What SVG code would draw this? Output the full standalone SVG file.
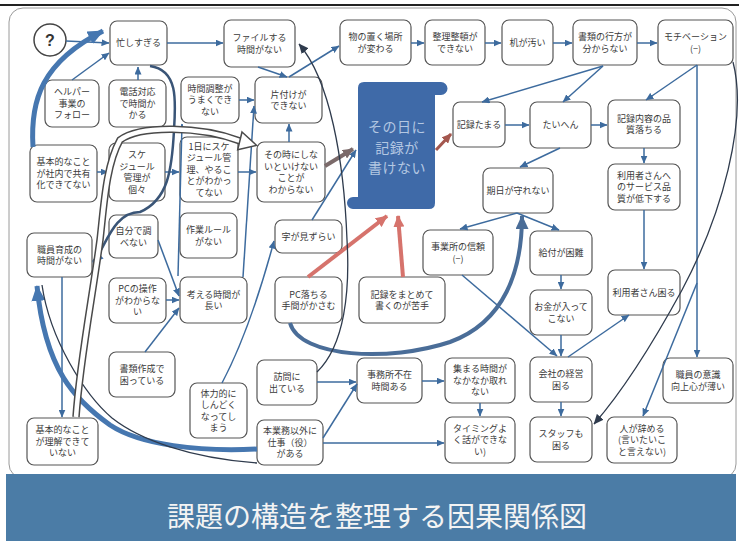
<svg xmlns="http://www.w3.org/2000/svg" width="739" height="546" viewBox="0 0 739 546">
<style>
.n rect{fill:#fff;stroke:#555;stroke-width:1.2}
.t{font-family:"Noto Sans CJK JP","Noto Sans",sans-serif;font-size:9px;fill:#3a3a3a;text-anchor:middle}
.c{fill:none;stroke:#3d6b9e;stroke-width:1.5;marker-end:url(#mb)}
.c0{fill:none;stroke:#3d6b9e;stroke-width:1.5}
.k{fill:none;stroke:#2f3b4d;stroke-width:1.3}
</style>
<defs>
<marker id="mb" markerUnits="userSpaceOnUse" markerWidth="8" markerHeight="7" refX="7.5" refY="3.5" orient="auto"><path d="M0,0 L8,3.5 L0,7 z" fill="#3d6b9e"/></marker>
<marker id="mk" markerUnits="userSpaceOnUse" markerWidth="10" markerHeight="9" refX="9.5" refY="4.5" orient="auto"><path d="M0,0 L10,4.5 L0,9 z" fill="#2f3b4d"/></marker>
<marker id="mB" markerUnits="userSpaceOnUse" markerWidth="16" markerHeight="14" refX="15" refY="7" orient="auto"><path d="M0,0 L16,7 L0,14 z" fill="#4677b0"/></marker>
<marker id="mP" markerUnits="userSpaceOnUse" markerWidth="14" markerHeight="13" refX="13" refY="6.5" orient="auto"><path d="M0,0 L14,6.5 L0,13 z" fill="#4a6d98"/></marker>
<marker id="mR" markerUnits="userSpaceOnUse" markerWidth="12" markerHeight="11" refX="11" refY="5.5" orient="auto"><path d="M0,0 L12,5.5 L0,11 z" fill="#d6736c"/></marker>
<marker id="mG" markerUnits="userSpaceOnUse" markerWidth="11" markerHeight="10" refX="10" refY="5" orient="auto"><path d="M0,0 L11,5 L0,10 z" fill="#7b6a6a"/></marker>
<marker id="mD" markerUnits="userSpaceOnUse" markerWidth="10" markerHeight="9" refX="9" refY="4.5" orient="auto"><path d="M0,0 L10,4.5 L0,9 z" fill="#a4574e"/></marker>
<marker id="mS" markerUnits="userSpaceOnUse" markerWidth="11" markerHeight="10" refX="10" refY="5" orient="auto"><path d="M0,0 L11,5 L0,10 z" fill="#3f6ea8"/></marker>
</defs>
<rect x="0" y="0" width="739" height="546" fill="#fff"/>
<line x1="0" y1="5" x2="739" y2="5" stroke="#222" stroke-width="2"/>
<rect x="9" y="8" width="727" height="470" rx="14" fill="#fff" stroke="#9a9a9a" stroke-width="1"/>
<rect x="6" y="474" width="730" height="67" fill="#4b7ca6"/>
<text x="377" y="527" style="font-family:'Noto Sans CJK JP','Noto Sans',sans-serif;font-size:28px;fill:#f4f4f4;text-anchor:middle">課題の構造を整理する因果関係図</text>

<g id="nodes">
<g id="n_q"><circle cx="50" cy="40" r="16" fill="#fff" stroke="#444" stroke-width="1.5"/><text x="50" y="46" style="font-family:'Liberation Sans',sans-serif;font-size:16px;font-weight:bold;fill:#333;text-anchor:middle">?</text></g>
<g id="n1" class="n"><rect x="110" y="21" width="57" height="44" rx="7"/><text class="t" x="138.5" y="46.2">忙しすぎる</text></g>
<g id="n2" class="n"><rect x="224" y="20" width="71" height="47" rx="7"/><text class="t"><tspan x="259.5" y="41">ファイルする</tspan><tspan x="259.5" y="52.5">時間がない</tspan></text></g>
<g id="n3" class="n"><rect x="340" y="20" width="71" height="45" rx="7"/><text class="t"><tspan x="375.5" y="40">物の置く場所</tspan><tspan x="375.5" y="51.5">が変わる</tspan></text></g>
<g id="n4" class="n"><rect x="425" y="20" width="60" height="45" rx="7"/><text class="t"><tspan x="455" y="40">整理整頓が</tspan><tspan x="455" y="51.5">できない</tspan></text></g>
<g id="n5" class="n"><rect x="502" y="20" width="51" height="45" rx="7"/><text class="t" x="527.5" y="45.7">机が汚い</text></g>
<g id="n6" class="n"><rect x="573" y="20" width="64" height="45" rx="7"/><text class="t"><tspan x="605" y="40">書類の行方が</tspan><tspan x="605" y="51.5">分からない</tspan></text></g>
<g id="n7" class="n"><rect x="658" y="20" width="75" height="45" rx="7"/><text class="t"><tspan x="695.5" y="40">モチベーション</tspan><tspan x="695.5" y="51.5">(−)</tspan></text></g>
<g id="n8" class="n"><rect x="45" y="80" width="54" height="47" rx="7"/><text class="t"><tspan x="72" y="95.2">ヘルパー</tspan><tspan x="72" y="106.7">事業の</tspan><tspan x="72" y="118.2">フォロー</tspan></text></g>
<g id="n9" class="n"><rect x="109" y="80" width="57" height="47" rx="7"/><text class="t"><tspan x="137.5" y="95.2">電話対応</tspan><tspan x="137.5" y="106.7">で時間か</tspan><tspan x="137.5" y="118.2">かる</tspan></text></g>
<g id="n10" class="n"><rect x="181" y="77" width="58" height="46" rx="7"/><text class="t"><tspan x="210" y="91.7">時間調整が</tspan><tspan x="210" y="103.2">うまくでき</tspan><tspan x="210" y="114.7">ない</tspan></text></g>
<g id="n11" class="n"><rect x="255" y="77" width="67" height="46" rx="7"/><text class="t"><tspan x="288.5" y="97.5">片付けが</tspan><tspan x="288.5" y="109">できない</tspan></text></g>
<g id="n12" class="n"><rect x="30" y="145" width="67" height="57" rx="7"/><text class="t"><tspan x="63.5" y="165.2">基本的なこと</tspan><tspan x="63.5" y="176.7">が社内で共有</tspan><tspan x="63.5" y="188.2">化できてない</tspan></text></g>
<g id="n13" class="n"><rect x="109" y="143" width="56" height="58" rx="7"/><text class="t"><tspan x="137" y="158">スケ</tspan><tspan x="137" y="169.5">ジュール</tspan><tspan x="137" y="181">管理が</tspan><tspan x="137" y="192.5">個々</tspan></text></g>
<g id="n14" class="n"><rect x="180" y="137" width="58" height="65" rx="7"/><text class="t"><tspan x="209" y="149.7">1日にスケ</tspan><tspan x="209" y="161.2">ジュール管</tspan><tspan x="209" y="172.7">理、やるこ</tspan><tspan x="209" y="184.2">とがわかっ</tspan><tspan x="209" y="195.7">てない</tspan></text></g>
<g id="n15" class="n"><rect x="257" y="142" width="68" height="60" rx="7"/><text class="t"><tspan x="291" y="158">その時にしな</tspan><tspan x="291" y="169.5">いといけない</tspan><tspan x="291" y="181">ことが</tspan><tspan x="291" y="192.5">わからない</tspan></text></g>
<g id="n16"><path d="M364,82 H441 A6.5,6.5 0 0 1 441,95 H435 V203 Q435,209 429,209 H353 A6,6 0 0 1 353,197 H358 V88 Q358,82 364,82 Z" fill="#3f6aa8"/><text style="font-family:'Noto Sans CJK JP','Noto Sans',sans-serif;font-size:14px;fill:#b3c7e2;text-anchor:middle;letter-spacing:0.5px"><tspan x="397" y="132">その日に</tspan><tspan x="397" y="153">記録が</tspan><tspan x="397" y="173">書けない</tspan></text></g>
<g id="n17" class="n"><rect x="453" y="102" width="52" height="45" rx="7"/><text class="t" x="479" y="127.7">記録たまる</text></g>
<g id="n18" class="n"><rect x="530" y="102" width="61" height="46" rx="7"/><text class="t" x="560.5" y="128.2">たいへん</text></g>
<g id="n19" class="n"><rect x="608" y="100" width="72" height="48" rx="7"/><text class="t"><tspan x="644" y="121.5">記録内容の品</tspan><tspan x="644" y="133">質落ちる</tspan></text></g>
<g id="n20" class="n"><rect x="483" y="168" width="70" height="45" rx="7"/><text class="t" x="518" y="193.7">期日が守れない</text></g>
<g id="n21" class="n"><rect x="608" y="164" width="72" height="46" rx="7"/><text class="t"><tspan x="644" y="178.7">利用者さんへ</tspan><tspan x="644" y="190.2">のサービス品</tspan><tspan x="644" y="201.7">質が低下する</tspan></text></g>
<g id="n22" class="n"><rect x="423" y="230" width="70" height="45" rx="7"/><text class="t"><tspan x="458" y="250">事業所の信頼</tspan><tspan x="458" y="261.5">(−)</tspan></text></g>
<g id="n23" class="n"><rect x="530" y="231" width="62" height="44" rx="7"/><text class="t" x="561" y="256.2">給付が困難</text></g>
<g id="n24" class="n"><rect x="530" y="290" width="62" height="45" rx="7"/><text class="t"><tspan x="561" y="310">お金が入って</tspan><tspan x="561" y="321.5">こない</tspan></text></g>
<g id="n25" class="n"><rect x="608" y="270" width="72" height="45" rx="7"/><text class="t" x="644" y="295.7">利用者さん困る</text></g>
<g id="n26" class="n"><rect x="530" y="357" width="62" height="45" rx="7"/><text class="t"><tspan x="561" y="377">会社の経営</tspan><tspan x="561" y="388.5">困る</tspan></text></g>
<g id="n27" class="n"><rect x="663" y="358" width="70" height="45" rx="7"/><text class="t"><tspan x="698" y="378">職員の意識</tspan><tspan x="698" y="389.5">向上心が薄い</tspan></text></g>
<g id="n28" class="n"><rect x="530" y="417" width="62" height="45" rx="7"/><text class="t"><tspan x="561" y="437">スタッフも</tspan><tspan x="561" y="448.5">困る</tspan></text></g>
<g id="n29" class="n"><rect x="607" y="417" width="70" height="46" rx="7"/><text class="t"><tspan x="642" y="431.7">人が辞める</tspan><tspan x="642" y="443.2">(言いたいこ</tspan><tspan x="642" y="454.7">と言えない)</tspan></text></g>
<g id="n30" class="n"><rect x="445" y="358" width="70" height="45" rx="7"/><text class="t"><tspan x="480" y="372.2">集まる時間が</tspan><tspan x="480" y="383.7">なかなか取れ</tspan><tspan x="480" y="395.2">ない</tspan></text></g>
<g id="n31" class="n"><rect x="445" y="417" width="70" height="46" rx="7"/><text class="t"><tspan x="480" y="431.7">タイミングよ</tspan><tspan x="480" y="443.2">く話ができな</tspan><tspan x="480" y="454.7">い)</tspan></text></g>
<g id="n32" class="n"><rect x="357" y="358" width="65" height="45" rx="7"/><text class="t"><tspan x="389.5" y="378">事務所不在</tspan><tspan x="389.5" y="389.5">時間ある</tspan></text></g>
<g id="n33" class="n"><rect x="257" y="360" width="60" height="45" rx="7"/><text class="t"><tspan x="287" y="380">訪問に</tspan><tspan x="287" y="391.5">出ている</tspan></text></g>
<g id="n34" class="n"><rect x="257" y="420" width="66" height="45" rx="7"/><text class="t"><tspan x="290" y="434.2">本業務以外に</tspan><tspan x="290" y="445.7">仕事（役）</tspan><tspan x="290" y="457.2">がある</tspan></text></g>
<g id="n35" class="n"><rect x="275" y="220" width="67" height="33" rx="7"/><text class="t" x="308.5" y="239.7">字が見ずらい</text></g>
<g id="n36" class="n"><rect x="275" y="277" width="67" height="46" rx="7"/><text class="t"><tspan x="308.5" y="297.5">PC落ちる</tspan><tspan x="308.5" y="309">手間がかさむ</tspan></text></g>
<g id="n37" class="n"><rect x="359" y="277" width="86" height="46" rx="7"/><text class="t"><tspan x="402" y="297.5">記録をまとめて</tspan><tspan x="402" y="309">書くのが苦手</tspan></text></g>
<g id="n38" class="n"><rect x="109" y="215" width="49" height="43" rx="7"/><text class="t"><tspan x="133.5" y="234">自分で調</tspan><tspan x="133.5" y="245.5">べない</tspan></text></g>
<g id="n39" class="n"><rect x="180" y="213" width="57" height="45" rx="7"/><text class="t"><tspan x="208.5" y="233">作業ルール</tspan><tspan x="208.5" y="244.5">がない</tspan></text></g>
<g id="n40" class="n"><rect x="27" y="233" width="65" height="44" rx="7"/><text class="t"><tspan x="59.5" y="252.5">職員育成の</tspan><tspan x="59.5" y="264">時間がない</tspan></text></g>
<g id="n41" class="n"><rect x="109" y="278" width="57" height="45" rx="7"/><text class="t"><tspan x="137.5" y="292.2">PCの操作</tspan><tspan x="137.5" y="303.7">がわからな</tspan><tspan x="137.5" y="315.2">い</tspan></text></g>
<g id="n42" class="n"><rect x="180" y="277" width="67" height="46" rx="7"/><text class="t"><tspan x="213.5" y="297.5">考える時間が</tspan><tspan x="213.5" y="309">長い</tspan></text></g>
<g id="n43" class="n"><rect x="109" y="352" width="66" height="45" rx="7"/><text class="t"><tspan x="142" y="372">書類作成で</tspan><tspan x="142" y="383.5">困っている</tspan></text></g>
<g id="n44" class="n"><rect x="190" y="383" width="57" height="55" rx="7"/><text class="t"><tspan x="218.5" y="396.5">体力的に</tspan><tspan x="218.5" y="408">しんどく</tspan><tspan x="218.5" y="419.5">なってし</tspan><tspan x="218.5" y="431">まう</tspan></text></g>
<g id="n45" class="n"><rect x="27" y="418" width="71" height="47" rx="7"/><text class="t"><tspan x="62.5" y="433.2">基本的なこと</tspan><tspan x="62.5" y="444.7">が理解できて</tspan><tspan x="62.5" y="456.2">いない</tspan></text></g>
</g>

<g id="connectors">
<path class="c" d="M66,41 L109,43"/>
<path class="c" d="M72,80 L109,53"/>
<path class="c" d="M138,80 L138,67"/>
<path class="c" d="M167,43 L223,43"/>
<path class="c" d="M258,67 L287,77"/>
<path class="c" d="M289,77 L339,46"/>
<path class="c" d="M411,43 L424,43"/>
<path class="c" d="M485,43 L501,43"/>
<path class="c" d="M553,43 L572,43"/>
<path class="c" d="M637,43 L657,43"/>
<path class="c" d="M603,66 L482,102"/>
<path class="c" d="M603,66 L563,102"/>
<path class="c" d="M697,65 L646,100"/>
<path class="c" d="M697,65 L697,357"/>
<path class="c" d="M697,283 L643,416"/>
<path class="c" d="M505,125 L529,125"/>
<path class="c" d="M591,125 L607,125"/>
<path class="c" d="M560,148 L520,167"/>
<path class="c" d="M644,148 L644,163"/>
<path class="c" d="M644,210 L644,269"/>
<path class="c" d="M517,213 L460,229"/>
<path class="c" d="M517,213 L559,230"/>
<path class="c" d="M561,275 L561,289"/>
<path class="c" d="M561,335 L561,356"/>
<path class="c" d="M462,275 L557,356"/>
<path class="c" d="M568,357 L629,315"/>
<path class="c" d="M561,402 L561,416"/>
<path class="c" d="M480,403 L480,416"/>
<path class="c" d="M422,381 L444,381"/>
<path class="c" d="M317,382 L356,382"/>
<path class="c" d="M323,438 L357,384"/>
<path class="c" d="M323,443 L444,443"/>
<path class="c" d="M239,100 L254,100"/>
<path class="c" d="M289,142 L289,124"/>
<path class="c" d="M238,172 L256,172"/>
<path class="c" d="M165,172 L179,172"/>
<path class="c" d="M97,172 L108,172"/>
<path class="c" d="M158,240 L179,296"/>
<path class="c" d="M166,300 L179,300"/>
<path class="c" d="M145,352 L179,308"/>
<path class="c" d="M222,383 Q250,330 274,241"/>
<path class="c" d="M243,277 L254,106"/>
<path class="c" d="M178,276 L182,124"/>
<path class="c" d="M62,277 L62,417"/>
<path class="c" d="M312,220 L356,150"/>
<path d="M33,147 C30,100 42,62 103,31" fill="none" stroke="#4677b0" stroke-width="5" marker-end="url(#mB)"/>
<path d="M257,449 C200,452 140,445 110,425 C75,400 45,370 37,286" fill="none" stroke="#4677b0" stroke-width="5" marker-end="url(#mB)"/>
<path class="k" d="M257,463 C190,458 140,440 112,418 C85,395 50,340 42,285"/>
<path d="M150,66 C178,70 176,100 174,130 C172,170 168,200 140,212 C112,212 105,250 93,262" fill="none" stroke="#3a5577" stroke-width="2.5" marker-end="url(#mS)"/>
<path d="M76,417 C80,360 92,300 100,240 C104,205 106,165 120,140 C140,125 200,126 240,141" fill="none" stroke="#4a4a4a" stroke-width="7.5"/>
<path d="M76,417 C80,360 92,300 100,240 C104,205 106,165 120,140 C140,125 200,126 240,141" fill="none" stroke="#fff" stroke-width="4.5"/>
<polygon points="242,132 256.5,145.3 237.7,149.7" fill="#fff" stroke="#4a4a4a" stroke-width="1.5"/>
<path d="M325,166 L353,149" fill="none" stroke="#7b6a6a" stroke-width="4" marker-end="url(#mG)"/>
<path d="M308,277 L387,216" fill="none" stroke="#d6736c" stroke-width="4" marker-end="url(#mR)"/>
<path d="M403,277 L398,216" fill="none" stroke="#d6736c" stroke-width="4" marker-end="url(#mR)"/>
<path d="M436,150 L451,134" fill="none" stroke="#a4574e" stroke-width="3" marker-end="url(#mD)"/>
<path d="M290,323 C300,358 390,362 450,342 C505,322 522,270 522,216" fill="none" stroke="#4a6d98" stroke-width="4" marker-end="url(#mP)"/>
<path class="k" d="M317,372 C345,345 350,290 347,240 C344,160 330,80 299,44" marker-end="url(#mk)"/>
<path class="k" d="M733,62 C748,120 722,215 682,290 C652,345 622,392 594,424" marker-end="url(#mk)"/>
</g>
</svg>
